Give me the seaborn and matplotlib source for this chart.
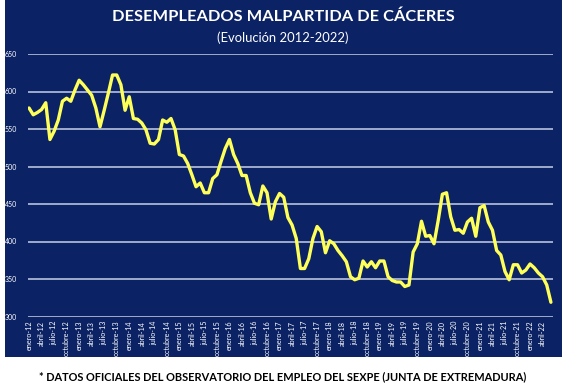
import pandas as pd
import matplotlib.pyplot as plt
import seaborn as sns
from matplotlib.patches import Rectangle

# Monthly registered unemployed, enero-2012 .. junio-2022
parados = [
    578, 569, 572, 576, 585, 536, 547, 562, 587, 591, 587, 602,
    615, 609, 602, 595, 578, 553, 575, 598, 622, 622, 609, 575,
    593, 564, 563, 558, 549, 531, 530, 536, 562, 559, 564, 549,
    516, 514, 504, 489, 473, 478, 465, 465, 484, 489, 507, 524,
    536, 516, 504, 488, 488, 465, 451, 449, 474, 465, 430, 453,
    464, 459, 432, 422, 404, 364, 364, 377, 404, 420, 413, 385,
    401, 397, 388, 381, 373, 353, 349, 351, 374, 366, 373, 365,
    374, 374, 353, 348, 346, 346, 340, 342, 386, 397, 427, 407,
    408, 397, 428, 463, 465, 433, 415, 416, 411, 426, 431, 407,
    445, 448, 426, 415, 388, 382, 360, 349, 369, 369, 358, 362,
    370, 365, 358, 353, 342, 319,
]
meses_trimestre = ['enero', 'abril', 'julio', 'octubre']
anios = ['12', '13', '14', '15', '16', '17', '18', '19', '20', '21', '22']
etiquetas = [f"{m}-{a}" for a in anios for m in meses_trimestre][:42]

df = pd.DataFrame({'mes': range(len(parados)), 'parados': parados})

navy = '#0b2265'
sns.set_style('dark')
plt.rcParams['font.family'] = ['Lato', 'DejaVu Sans']

fig = plt.figure(figsize=(5.66, 3.85), dpi=100, facecolor='white')
# dark blue panel behind the chart
fig.patches.append(Rectangle((5 / 566, 1 - 357 / 385), 557 / 566, 357 / 385,
                             transform=fig.transFigure, facecolor=navy,
                             edgecolor='none', zorder=-10))

ax = fig.add_axes([28 / 566, 1 - 316.5 / 385, 525 / 566, 262.5 / 385])
ax.set_facecolor(navy)
for y in range(300, 651, 50):
    ax.axhline(y, color='#aab6d4', lw=1.3, zorder=1)

sns.lineplot(data=df, x='mes', y='parados', color='#ffff5a', lw=2.4, ax=ax, zorder=3)

ax.set_xlim(-0.25, 125.5)
ax.set_ylim(300, 650)
ax.set_yticks(range(300, 651, 50))
ax.set_yticklabels([str(v) for v in range(300, 651, 50)], color='white', fontsize=5)
ax.set_xticks(range(0, 126, 3))
ax.set_xticklabels(etiquetas, rotation=90, color='white', fontsize=5.2)
ax.tick_params(axis='both', length=0, pad=3)
ax.tick_params(axis='y', pad=8)
ax.set_xlabel('')
ax.set_ylabel('')
ax.grid(False)
for s in ax.spines.values():
    s.set_visible(False)

fig.text(0.5, 1 - 17 / 385, 'DESEMPLEADOS MALPARTIDA DE CÁCERES', ha='center', va='center',
         color='white', fontsize=11.8, fontweight='bold')
fig.text(0.5, 1 - 38 / 385, '(Evolución 2012-2022)', ha='center', va='center',
         color='white', fontsize=9.4)
fig.text(0.5, 1 - 377 / 385,
         '* DATOS OFICIALES DEL OBSERVATORIO DEL EMPLEO DEL SEXPE (JUNTA DE EXTREMADURA)',
         ha='center', va='center', color='black', fontsize=7.9, fontweight='bold')

fig.savefig('out.png', dpi=100, facecolor='white')
